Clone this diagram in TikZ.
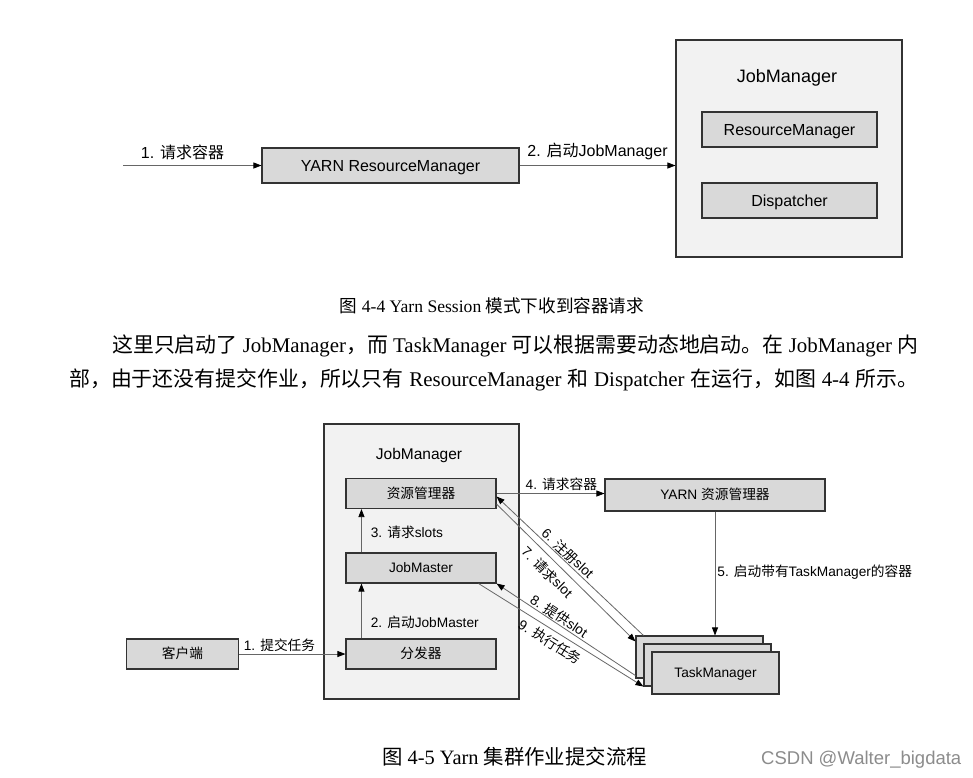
\documentclass[tikz,border=0pt]{standalone}
\usepackage{fontspec}
\setmainfont{Liberation Serif}
\setsansfont{Liberation Sans}
\newfontfamily\zhfont{Noto Sans CJK SC}
\newcommand\zh[1]{{\zhfont #1}}
\usetikzlibrary{arrows.meta,positioning}

\begin{document}
\begin{tikzpicture}[x=1pt,y=-1pt,inner sep=0pt,
  box/.style={draw=black!80,fill=black!15,line width=1.1pt},
  frame/.style={draw=black!80,fill=black!5,line width=1.1pt},
  big/.style={font=\sffamily\fontsize{16}{18}\selectfont},
  small/.style={font=\sffamily\fontsize{13.7}{16}\selectfont},
  bbox/.style={box,big,text height=11.5pt,text depth=0pt},
  sbox/.style={box,small,text height=9.9pt,text depth=0pt},
  arr/.style={-{Triangle[length=8pt,width=6pt,color=black]},draw=black!60,line width=0.8pt},
  body/.style={font=\fontsize{20.9}{25}\selectfont,anchor=base west}]
  \useasboundingbox[fill=white] (0,0) rectangle (973,777);

  % Yarn Session
  \coordinate (req) at (123,165.5);
  \node[bbox,minimum width=257pt,minimum height=35pt] (yrm) at (390.5,165.5) {YARN ResourceManager};
  \node[frame,minimum width=226pt,minimum height=217pt] (jm1) at (789,148.5) {};
  \node[font=\sffamily\fontsize{18}{20}\selectfont] (jm1t) at (787,78) {JobManager};
  \node[bbox,minimum width=175pt,minimum height=35pt] (rm1) at (789.5,129.5) {ResourceManager};
  \node[bbox,minimum width=175pt,minimum height=35pt] (disp1) at (789.5,200.5) {Dispatcher};
  \draw[arr] (req) -- node[big,above,yshift=5pt,pos=0.43] (l11) {1. \zh{请求容器}} (yrm);
  \draw[arr] (yrm.east) -- node[big,above,yshift=5pt,pos=0.5] (l12) {2. \zh{启动}JobManager} (yrm.east -| jm1.west);

  \node[font=\fontsize{17.6}{20}\selectfont,anchor=base] (cap1) at (492,312) {\zh{图} 4-4 Yarn Session \zh{模式下收到容器请求}};

  \node[body] (p1) at (112,352) {\makebox[806pt][s]{\zh{这里只启动了} JobManager\zh{，而} TaskManager \zh{可以根据需要动态地启动。在} JobManager \zh{内}}};
  \node[body] (p2) at (69,386) {\makebox[849pt][s]{\zh{部，由于还没有提交作业，所以只有} ResourceManager \zh{和} Dispatcher \zh{在运行，如图} 4-4 \zh{所示。}}};

  % Yarn cluster
  \node[frame,minimum width=195pt,minimum height=275pt] (jm2) at (421.5,561.5) {};
  \node[font=\sffamily\fontsize{15.5}{18}\selectfont] (jm2t) at (419,455) {JobManager};
  \node[sbox,minimum width=150pt,minimum height=30pt] (rm2) at (421,493.5) {\zh{资源管理器}};
  \node[sbox,minimum width=150pt,minimum height=30pt] (jmaster) at (421,568) {JobMaster};
  \node[sbox,minimum width=150pt,minimum height=30pt] (disp2) at (421,654) {\zh{分发器}};
  \node[sbox,minimum width=112pt,minimum height=30pt] (client) at (182.5,654) {\zh{客户端}};
  \node[sbox,minimum width=220pt,minimum height=32pt] (yarn2) at (715,495) {YARN \zh{资源管理器}};
  \node[box,minimum width=127pt,minimum height=42pt] (tm1) at (699.5,657) {};
  \node[box,minimum width=127pt,minimum height=42pt] (tm2) at (707.5,665) {};
  \node[sbox,minimum width=127pt,minimum height=42pt] (tm3) at (715.5,673) {TaskManager};

  \draw[arr] (client) -- node[small,above,yshift=2pt,pos=0.38] (l21) {1. \zh{提交任务}} (disp2);
  \draw[arr] ([xshift=16pt]disp2.north west) -- node[small,right,xshift=9pt,pos=0.3] (l22) {2. \zh{启动}JobMaster} ([xshift=16pt]jmaster.south west);
  \draw[arr] ([xshift=16pt]jmaster.north west) -- node[small,right,xshift=9pt,pos=0.47] (l23) {3. \zh{请求}slots} ([xshift=16pt]rm2.south west);
  \draw[arr] (rm2.east) -- node[small,above,yshift=2pt,pos=0.6] (l24) {4. \zh{请求容器}} (rm2.east -| yarn2.west);
  \draw[arr] (yarn2.south) -- node[small,right,xshift=2pt,pos=0.49] (l25) {5. \zh{启动带有}TaskManager\zh{的容器}} (yarn2.south |- tm1.north);
  \draw[arr] ([xshift=8pt]tm1.north west) -- node[small,sloped,above,inner sep=1pt,pos=0.55] (l26) {6. \zh{注册}slot} ([yshift=-3pt]rm2.east);
  \draw[arr] ([yshift=5pt]rm2.south east) -- node[small,sloped,below,inner sep=6pt,pos=0.43] (l27) {7. \zh{请求}slot} ([yshift=-6pt]tm1.north west);
  \draw[arr] ([yshift=3pt]tm1.south west) -- node[small,sloped,above,inner sep=1pt,pos=0.58] (l28) {8. \zh{提供}slot} (jmaster.south east);
  \draw[arr] ([xshift=-18pt]jmaster.south east) -- node[small,sloped,below,inner sep=4.5pt,pos=0.47] (l29) {9. \zh{执行任务}} (tm2.south west);

  \node[font=\fontsize{20.4}{24}\selectfont,anchor=base] (cap2) at (514.5,764) {\zh{图} 4-5 Yarn \zh{集群作业提交流程}};
  \node[font=\sffamily\fontsize{18.5}{20}\selectfont,text=black!45,anchor=base west] (mark) at (761,764) {CSDN @Walter\_bigdata};
\end{tikzpicture}
\end{document}
